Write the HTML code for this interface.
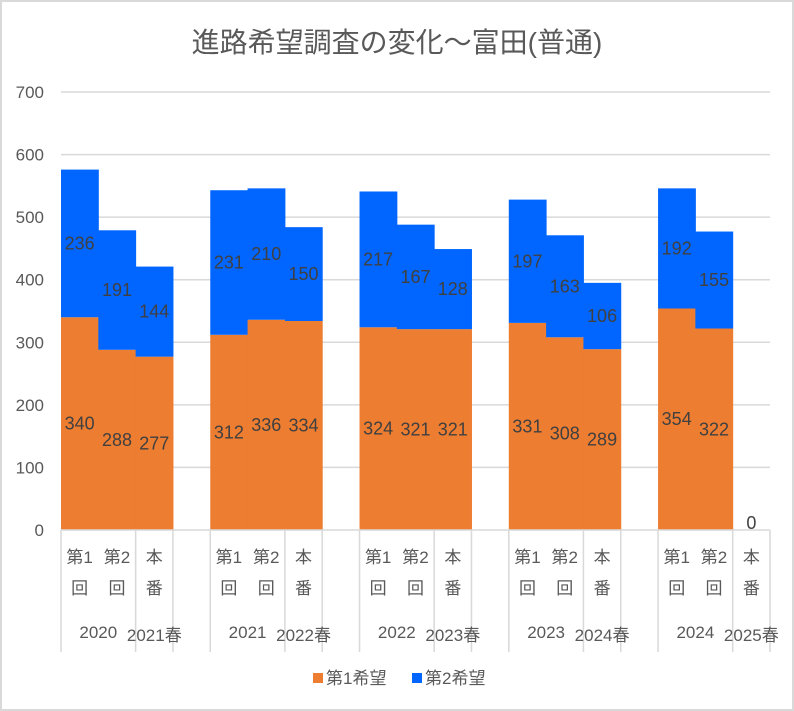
<!DOCTYPE html>
<html><head><meta charset="utf-8"><style>
body{margin:0;background:#fff}
svg{display:block;font-family:"Liberation Sans","Noto Sans CJK JP",sans-serif}
</style></head><body>
<svg id="c" width="794" height="711">
<rect x="1" y="1" width="792" height="709" fill="#fff" stroke="#d9d9d9" stroke-width="2"/>
<text x="397" y="52" text-anchor="middle" font-size="28" fill="#595959">進路希望調査の変化～富田(普通)</text>
<g id="grid"></g><g id="bars"></g><g id="axis"></g>
<g>
<rect x="313" y="673" width="10" height="10" fill="#ED7D31"/>
<text x="326" y="684" font-size="17" fill="#595959">第1希望</text>
<rect x="412" y="673" width="10" height="10" fill="#0066FF"/>
<text x="425" y="684" font-size="17" fill="#595959">第2希望</text>
</g>
</svg>
<script>
const categories=["第1回","第2回","本番","","第1回","第2回","本番","","第1回","第2回","本番","","第1回","第2回","本番","","第1回","第2回","本番"];
const groupLabels=["2020","2021春","2021","2022春","2022","2023春","2023","2024春","2024","2025春"];
const first=[340,288,277,null,312,336,334,null,324,321,321,null,331,308,289,null,354,322,0];
const second=[236,191,144,null,231,210,150,null,217,167,128,null,197,163,106,null,192,155,null];
const yTicks=[0,100,200,300,400,500,600,700];
const NS="http://www.w3.org/2000/svg";
const x0=61,x1=770,yb=530,yt=92,ymax=700;
const slot=(x1-x0)/categories.length;
const y=v=>yb-(v/ymax)*(yb-yt);
const xs=i=>x0+i*slot;
function mk(t,a,p){const e=document.createElementNS(NS,t);for(const k in a)e.setAttribute(k,a[k]);p.appendChild(e);return e;}
const grid=document.getElementById('grid'),bars=document.getElementById('bars'),axis=document.getElementById('axis');
yTicks.forEach(v=>{
  if(v>0){const l=mk('line',{x1:x0,x2:x1,y1:y(v),y2:y(v),stroke:'#d9d9d9','stroke-width':1.5},grid);
  
  }
  const t=mk('text',{x:44,y:y(v)+6,'text-anchor':'end','font-size':17,fill:'#595959'},axis);
  t.textContent=v;
  
  
});
categories.forEach((c,i)=>{
  if(first[i]===null)return;
  const f=first[i],s=second[i];
  const r1=mk('rect',{x:xs(i),width:slot+0.5,y:y(f),height:yb-y(f),fill:'#ED7D31'},bars);
  
  
  const cx=xs(i)+slot/2;
  if(s!==null){
    const r2=mk('rect',{x:xs(i),width:slot+0.5,y:y(f+s),height:y(f)-y(f+s),fill:'#0066FF'},bars);
    
    
    const t2=mk('text',{x:cx,y:(y(f)+y(f+s))/2+6,'text-anchor':'middle','font-size':18,fill:'#404040'},bars);
    t2.textContent=s;
    
    
  }
  const t1=mk('text',{x:cx,y:f>0?(y(f)+yb)/2+6:yb-1,'text-anchor':'middle','font-size':18,fill:'#404040'},bars);
  t1.textContent=f;
  
  
  if(c){
    const a=mk('text',{x:cx,y:563,'text-anchor':'middle','font-size':17,fill:'#595959'},axis);
    a.textContent=c.slice(0,2);
    
    
    const b=mk('text',{x:cx,y:594,'text-anchor':'middle','font-size':17,fill:'#595959'},axis);
    b.textContent=c.slice(2)||'';
    if(c==="本番"){a.textContent="本";b.textContent="番";}
    
    
  }
});
mk('line',{x1:x0,x2:x1,y1:yb,y2:yb,stroke:'#d9d9d9','stroke-width':1.5},axis);
for(let g=0;g<5;g++){
  const b=g*4;
  [b,b+2,b+3].forEach(k=>{
    if(k>categories.length)return;
    const l=mk('line',{x1:xs(k),x2:xs(k),y1:yb,y2:652,stroke:'#d9d9d9','stroke-width':1.5},axis);
    
    
  });
  const t=mk('text',{x:(xs(b)+xs(b+2))/2,y:638,'text-anchor':'middle','font-size':17,fill:'#595959'},axis);
  t.textContent=groupLabels[g*2];
  
  
  const u=mk('text',{x:xs(b+2)+slot/2,y:641,'text-anchor':'middle','font-size':17,fill:'#595959'},axis);
  u.textContent=groupLabels[g*2+1];
  
  
}
</script>
</body></html>
